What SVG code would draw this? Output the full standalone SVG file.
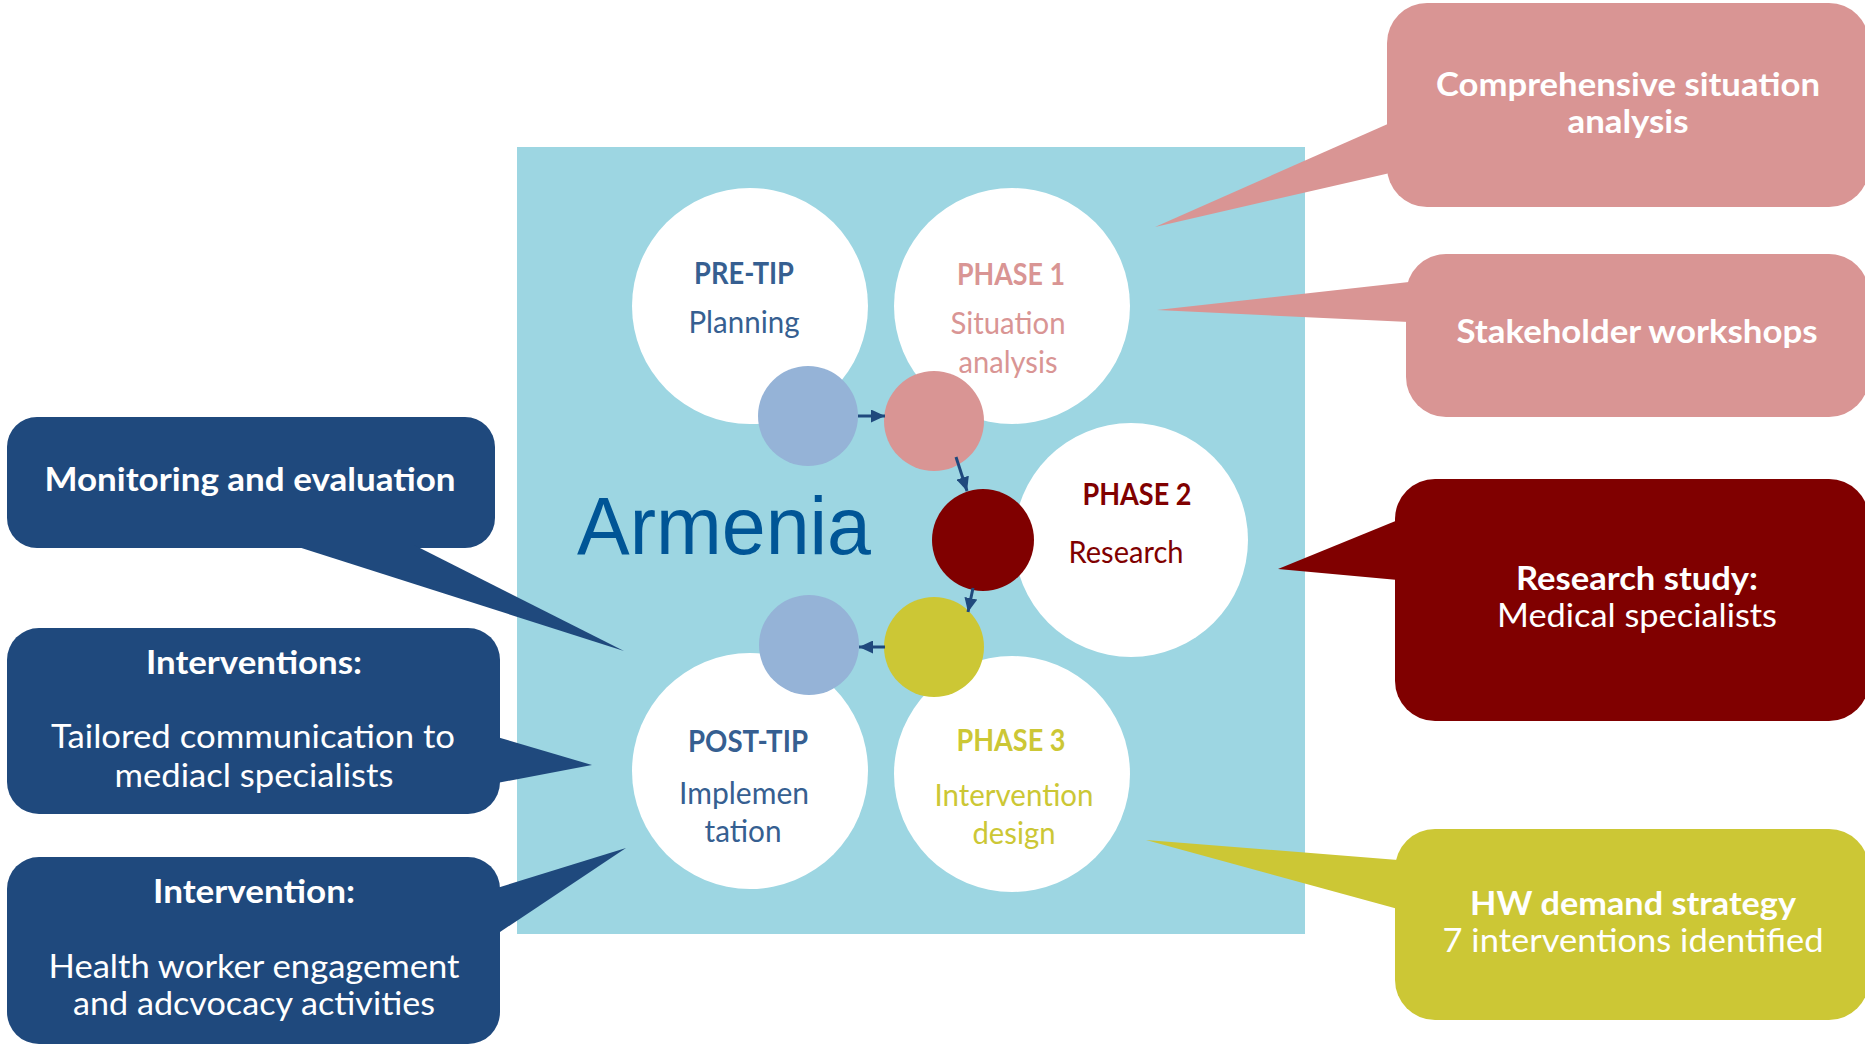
<svg xmlns="http://www.w3.org/2000/svg" width="1865" height="1049" viewBox="0 0 1865 1049">
<style>
text{font-family:Lato,"Open Sans","Liberation Sans",sans-serif;text-anchor:middle}
.b{font-weight:bold}
.ct{font-size:30px}
.cr{font-size:31px}
.w{fill:#ffffff;font-size:33px}
.blue{fill:#365F91}
.pink{fill:#D99594}
.red{fill:#800000}
.yel{fill:#CCC735}
.conn{stroke:#1F497D;stroke-width:3;fill:none;marker-end:url(#ah)}
</style>
<defs>
<marker id="ah" markerUnits="userSpaceOnUse" markerWidth="15" markerHeight="13" refX="14" refY="6.5" orient="auto">
<path d="M0,0 L14,6.5 L0,13 z" fill="#1F497D"/>
</marker>
</defs>
<rect x="0" y="0" width="1865" height="1049" fill="#ffffff"/>
<g id="country">
<rect x="517" y="147" width="788" height="787" fill="#9DD6E2"/>
<text x="724" y="554" style="font-family:'Liberation Sans',Arial,sans-serif;font-size:81px" fill="#005596" textLength="294" lengthAdjust="spacingAndGlyphs">Armenia</text>
</g>
<g id="callout-comprehensive">
<rect x="1387" y="3" width="482" height="204" rx="40" fill="#D99594"/>
<polygon points="1390,123 1155,227 1390,173" fill="#D99594"/>
<text class="w b" x="1628" y="96" textLength="384" lengthAdjust="spacingAndGlyphs">Comprehensive situation</text>
<text class="w b" x="1628" y="133" textLength="121" lengthAdjust="spacingAndGlyphs">analysis</text>
</g>
<g id="callout-stakeholder">
<rect x="1406" y="254" width="463" height="163" rx="40" fill="#D99594"/>
<polygon points="1409,282 1157,310 1409,322" fill="#D99594"/>
<text class="w b" x="1637" y="343" textLength="361" lengthAdjust="spacingAndGlyphs">Stakeholder workshops</text>
</g>
<g id="callout-research">
<rect x="1395" y="479" width="474" height="242" rx="40" fill="#800000"/>
<polygon points="1398,520 1278,569 1398,580" fill="#800000"/>
<text class="w b" x="1637" y="590" textLength="242" lengthAdjust="spacingAndGlyphs">Research study:</text>
<text class="w" x="1637" y="627" textLength="280" lengthAdjust="spacingAndGlyphs">Medical specialists</text>
</g>
<g id="callout-hw">
<rect x="1395" y="829" width="474" height="191" rx="40" fill="#CCC735"/>
<polygon points="1398,860 1146,840 1398,909" fill="#CCC735"/>
<text class="w b" x="1633" y="915" textLength="326" lengthAdjust="spacingAndGlyphs">HW demand strategy</text>
<text class="w" x="1633" y="952" textLength="381" lengthAdjust="spacingAndGlyphs">7 interventions identified</text>
</g>
<g id="callout-monitoring">
<rect x="7" y="417" width="488" height="131" rx="30" fill="#1F497D"/>
<polygon points="292,545 624,651 414,545" fill="#1F497D"/>
<text class="w b" x="250" y="491" textLength="411" lengthAdjust="spacingAndGlyphs">Monitoring and evaluation</text>
</g>
<g id="callout-interventions">
<rect x="7" y="628" width="493" height="186" rx="32" fill="#1F497D"/>
<polygon points="497,737 592,765 497,783" fill="#1F497D"/>
<text class="w b" x="254" y="674" textLength="216" lengthAdjust="spacingAndGlyphs">Interventions:</text>
<text class="w" x="253" y="748" textLength="404" lengthAdjust="spacingAndGlyphs">Tailored communication to</text>
<text class="w" x="254" y="787" textLength="279" lengthAdjust="spacingAndGlyphs">mediacl specialists</text>
</g>
<g id="callout-intervention">
<rect x="7" y="857" width="493" height="187" rx="32" fill="#1F497D"/>
<polygon points="497,888 626,848 497,934" fill="#1F497D"/>
<text class="w b" x="254" y="903" textLength="202" lengthAdjust="spacingAndGlyphs">Intervention:</text>
<text class="w" x="254" y="978" textLength="411" lengthAdjust="spacingAndGlyphs">Health worker engagement</text>
<text class="w" x="254" y="1015" textLength="362" lengthAdjust="spacingAndGlyphs">and adcvocacy activities</text>
</g>
<g id="pre-tip">
<circle cx="750" cy="306" r="118" fill="#ffffff"/>
<text class="ct b blue" x="744" y="284" textLength="100" lengthAdjust="spacingAndGlyphs">PRE-TIP</text>
<text class="cr blue" x="744" y="333" textLength="111" lengthAdjust="spacingAndGlyphs">Planning</text>
</g>
<g id="phase1">
<circle cx="1012" cy="306" r="118" fill="#ffffff"/>
<text class="ct b pink" x="1011" y="285" textLength="108" lengthAdjust="spacingAndGlyphs">PHASE 1</text>
<text class="cr pink" x="1008" y="334" textLength="115" lengthAdjust="spacingAndGlyphs">Situation</text>
<text class="cr pink" x="1008" y="373" textLength="99" lengthAdjust="spacingAndGlyphs">analysis</text>
</g>
<g id="phase2">
<circle cx="1131" cy="540" r="117" fill="#ffffff"/>
<text class="ct b red" x="1137" y="505" textLength="109" lengthAdjust="spacingAndGlyphs">PHASE 2</text>
<text class="cr red" x="1126" y="563" textLength="115" lengthAdjust="spacingAndGlyphs">Research</text>
</g>
<g id="post-tip">
<circle cx="750" cy="771" r="118" fill="#ffffff"/>
<text class="ct b blue" x="748" y="752" textLength="120" lengthAdjust="spacingAndGlyphs">POST-TIP</text>
<text class="cr blue" x="744" y="804" textLength="130" lengthAdjust="spacingAndGlyphs">Implemen</text>
<text class="cr blue" x="743" y="842" textLength="77" lengthAdjust="spacingAndGlyphs">tation</text>
</g>
<g id="phase3">
<circle cx="1012" cy="774" r="118" fill="#ffffff"/>
<text class="ct b yel" x="1011" y="751" textLength="109" lengthAdjust="spacingAndGlyphs">PHASE 3</text>
<text class="cr yel" x="1014" y="806" textLength="159" lengthAdjust="spacingAndGlyphs">Intervention</text>
<text class="cr yel" x="1014" y="844" textLength="83" lengthAdjust="spacingAndGlyphs">design</text>
</g>
<g id="dot-pre"><circle cx="808" cy="416" r="50" fill="#95B3D7"/></g>
<g id="dot-phase1"><circle cx="934" cy="421" r="50" fill="#D99594"/></g>
<g id="dot-phase2"><circle cx="983" cy="540" r="51" fill="#800000"/></g>
<g id="dot-phase3"><circle cx="934" cy="647" r="50" fill="#CCC735"/></g>
<g id="dot-post"><circle cx="809" cy="645" r="50" fill="#95B3D7"/></g>
<g id="connectors">
<line class="conn" x1="858" y1="416" x2="885" y2="416"/>
<line class="conn" x1="956" y1="457" x2="967" y2="491"/>
<line class="conn" x1="973" y1="588" x2="968" y2="612"/>
<line class="conn" x1="885" y1="647" x2="859" y2="647"/>
</g>
</svg>
